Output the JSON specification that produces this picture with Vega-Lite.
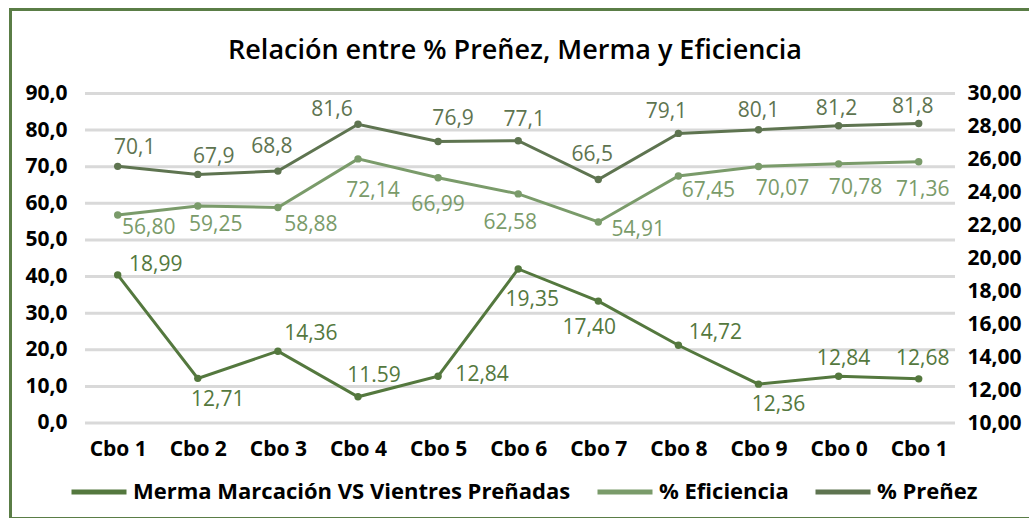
{
  "$schema": "https://vega.github.io/schema/vega-lite/v6.json",
  "width": 1019,
  "height": 509,
  "autosize": {"type": "none"},
  "padding": {"left": 10, "top": 9, "right": 0, "bottom": 0},
  "background": "white",
  "config": {
    "font": "Open Sans",
    "locale": {"number": {"decimal": ",", "thousands": ".", "grouping": [3], "currency": ["", " €"]}},
    "view": {"stroke": null},
    "axis": {"grid": false, "ticks": false, "tickSize": 0, "title": null, "labelFont": "Open Sans", "labelFontWeight": "bold", "labelFontSize": 21, "labelColor": "#000000", "domainColor": "#5a7d46", "domainWidth": 3, "domainCap": "square", "labelOverlap": false},
    "legend": {"orient": "none", "legendX": 59, "legendY": 453, "direction": "horizontal", "labelFontSize": 22, "labelFontWeight": "bold", "labelColor": "#000000", "labelFont": "Open Sans", "labelOffset": 4, "columnPadding": 16, "padding": 0, "labelLimit": 0}
  },
  "title": {"text": "Relación entre % Preñez, Merma y Eficiencia", "frame": "group", "anchor": "middle", "baseline": "alphabetic", "offset": -77, "dx": -4.5, "fontSize": 27, "fontWeight": 600, "color": "#000000", "font": "Open Sans"},
  "datasets": {
    "grid": [{"g": 0}, {"g": 10}, {"g": 20}, {"g": 30}, {"g": 40}, {"g": 50}, {"g": 60}, {"g": 70}, {"g": 80}, {"g": 90}],
    "points": [
      {"i": 1, "cbo": "Cbo 1", "series": "% Preñez", "value": 70.1, "label": "70,1"},
      {"i": 2, "cbo": "Cbo 2", "series": "% Preñez", "value": 67.9, "label": "67,9"},
      {"i": 3, "cbo": "Cbo 3", "series": "% Preñez", "value": 68.8, "label": "68,8"},
      {"i": 4, "cbo": "Cbo 4", "series": "% Preñez", "value": 81.6, "label": "81,6"},
      {"i": 5, "cbo": "Cbo 5", "series": "% Preñez", "value": 76.9, "label": "76,9"},
      {"i": 6, "cbo": "Cbo 6", "series": "% Preñez", "value": 77.1, "label": "77,1"},
      {"i": 7, "cbo": "Cbo 7", "series": "% Preñez", "value": 66.5, "label": "66,5"},
      {"i": 8, "cbo": "Cbo 8", "series": "% Preñez", "value": 79.1, "label": "79,1"},
      {"i": 9, "cbo": "Cbo 9", "series": "% Preñez", "value": 80.1, "label": "80,1"},
      {"i": 10, "cbo": "Cbo 0", "series": "% Preñez", "value": 81.2, "label": "81,2"},
      {"i": 11, "cbo": "Cbo 1", "series": "% Preñez", "value": 81.8, "label": "81,8"},
      {"i": 1, "cbo": "Cbo 1", "series": "% Eficiencia", "value": 56.80, "label": "56,80"},
      {"i": 2, "cbo": "Cbo 2", "series": "% Eficiencia", "value": 59.25, "label": "59,25"},
      {"i": 3, "cbo": "Cbo 3", "series": "% Eficiencia", "value": 58.88, "label": "58,88"},
      {"i": 4, "cbo": "Cbo 4", "series": "% Eficiencia", "value": 72.14, "label": "72,14"},
      {"i": 5, "cbo": "Cbo 5", "series": "% Eficiencia", "value": 66.99, "label": "66,99"},
      {"i": 6, "cbo": "Cbo 6", "series": "% Eficiencia", "value": 62.58, "label": "62,58"},
      {"i": 7, "cbo": "Cbo 7", "series": "% Eficiencia", "value": 54.91, "label": "54,91"},
      {"i": 8, "cbo": "Cbo 8", "series": "% Eficiencia", "value": 67.45, "label": "67,45"},
      {"i": 9, "cbo": "Cbo 9", "series": "% Eficiencia", "value": 70.07, "label": "70,07"},
      {"i": 10, "cbo": "Cbo 0", "series": "% Eficiencia", "value": 70.78, "label": "70,78"},
      {"i": 11, "cbo": "Cbo 1", "series": "% Eficiencia", "value": 71.36, "label": "71,36"},
      {"i": 1, "cbo": "Cbo 1", "series": "Merma Marcación VS Vientres Preñadas", "value": 18.99, "label": "18,99"},
      {"i": 2, "cbo": "Cbo 2", "series": "Merma Marcación VS Vientres Preñadas", "value": 12.71, "label": "12,71"},
      {"i": 3, "cbo": "Cbo 3", "series": "Merma Marcación VS Vientres Preñadas", "value": 14.36, "label": "14,36"},
      {"i": 4, "cbo": "Cbo 4", "series": "Merma Marcación VS Vientres Preñadas", "value": 11.59, "label": "11.59"},
      {"i": 5, "cbo": "Cbo 5", "series": "Merma Marcación VS Vientres Preñadas", "value": 12.84, "label": "12,84"},
      {"i": 6, "cbo": "Cbo 6", "series": "Merma Marcación VS Vientres Preñadas", "value": 19.35, "label": "19,35"},
      {"i": 7, "cbo": "Cbo 7", "series": "Merma Marcación VS Vientres Preñadas", "value": 17.40, "label": "17,40"},
      {"i": 8, "cbo": "Cbo 8", "series": "Merma Marcación VS Vientres Preñadas", "value": 14.72, "label": "14,72"},
      {"i": 9, "cbo": "Cbo 9", "series": "Merma Marcación VS Vientres Preñadas", "value": 12.36, "label": "12,36"},
      {"i": 10, "cbo": "Cbo 0", "series": "Merma Marcación VS Vientres Preñadas", "value": 12.84, "label": "12,84"},
      {"i": 11, "cbo": "Cbo 1", "series": "Merma Marcación VS Vientres Preñadas", "value": 12.68, "label": "12,68"}
    ]
  },
  "layer": [
    {
      "layer": [
        {
          "data": {"name": "grid"},
          "mark": {"type": "rule", "strokeWidth": 3, "color": "#d9d9d9"},
          "encoding": {
            "y": {"field": "g", "type": "quantitative", "scale": {"domain": [-25.95, 113.08], "nice": false, "zero": false}, "axis": {"orient": "left", "values": [0, 10, 20, 30, 40, 50, 60, 70, 80, 90], "format": ".1f", "labelPadding": -57, "labelAlign": "right", "labelBaseline": "middle"}},
            "x": {"datum": 0.592, "type": "quantitative", "scale": {"domain": [-0.3446, 12.377], "nice": false, "zero": false}, "axis": {"orient": "bottom", "values": [1, 2, 3, 4, 5, 6, 7, 8, 9, 10, 11], "labelExpr": "['Cbo 1','Cbo 2','Cbo 3','Cbo 4','Cbo 5','Cbo 6','Cbo 7','Cbo 8','Cbo 9','Cbo 0','Cbo 1'][datum.value - 1]", "labelPadding": -79.5, "labelFlush": false, "labelBaseline": "top", "labelAlign": "center"}},
            "x2": {"datum": 11.453}
          }
        },
        {
          "data": {"name": "points"},
          "transform": [{"filter": "datum.series != 'Merma Marcación VS Vientres Preñadas'"}],
          "mark": {"type": "line", "strokeWidth": 3},
          "encoding": {
            "x": {"field": "i", "type": "quantitative", "scale": {"domain": [-0.3446, 12.377], "nice": false, "zero": false}},
            "y": {"field": "value", "type": "quantitative", "scale": {"domain": [-25.95, 113.08], "nice": false, "zero": false}},
            "color": {"field": "series", "type": "nominal", "scale": {"domain": ["Merma Marcación VS Vientres Preñadas", "% Eficiencia", "% Preñez"], "range": ["#54783e", "#7a9b6a", "#5e7450"]}, "legend": {"title": null, "symbolType": "stroke", "symbolSize": 3025, "symbolStrokeWidth": 5}}
          }
        },
        {
          "data": {"name": "points"},
          "transform": [{"filter": "datum.series != 'Merma Marcación VS Vientres Preñadas'"}],
          "mark": {"type": "circle", "size": 55, "opacity": 1},
          "encoding": {
            "x": {"field": "i", "type": "quantitative", "scale": {"domain": [-0.3446, 12.377], "nice": false, "zero": false}},
            "y": {"field": "value", "type": "quantitative", "scale": {"domain": [-25.95, 113.08], "nice": false, "zero": false}},
            "color": {"field": "series", "type": "nominal", "legend": {"title": null, "symbolType": "stroke", "symbolSize": 3025, "symbolStrokeWidth": 5}}
          }
        },
        {
          "data": {"name": "points"},
          "transform": [{"filter": "datum.series == '% Preñez'"}],
          "mark": {"type": "text", "fontSize": 21, "align": "center", "baseline": "middle", "dx": {"expr": "[17,16,-6,-26,15,6,-6,-12,0,-2,-6][datum.i-1]"}, "dy": {"expr": "[-18,-17,-24,-14,-22,-21,-25,-21,-19,-17,-17][datum.i-1]"}},
          "encoding": {
            "x": {"field": "i", "type": "quantitative", "scale": {"domain": [-0.3446, 12.377], "nice": false, "zero": false}},
            "y": {"field": "value", "type": "quantitative", "scale": {"domain": [-25.95, 113.08], "nice": false, "zero": false}},
            "text": {"field": "label"},
            "color": {"field": "series", "type": "nominal", "legend": {"title": null, "symbolType": "stroke", "symbolSize": 3025, "symbolStrokeWidth": 5}}
          }
        },
        {
          "data": {"name": "points"},
          "transform": [{"filter": "datum.series == '% Eficiencia'"}],
          "mark": {"type": "text", "fontSize": 21, "align": "center", "baseline": "middle", "dx": {"expr": "[31,18,33,15,0,-8,40,30,24,17,4][datum.i-1]"}, "dy": {"expr": "[13,19,18,32,27,29,8,15,23,24,28][datum.i-1]"}},
          "encoding": {
            "x": {"field": "i", "type": "quantitative", "scale": {"domain": [-0.3446, 12.377], "nice": false, "zero": false}},
            "y": {"field": "value", "type": "quantitative", "scale": {"domain": [-25.95, 113.08], "nice": false, "zero": false}},
            "text": {"field": "label"},
            "color": {"field": "series", "type": "nominal", "legend": {"title": null, "symbolType": "stroke", "symbolSize": 3025, "symbolStrokeWidth": 5}}
          }
        }
      ]
    },
    {
      "layer": [
        {
          "data": {"name": "points"},
          "transform": [{"filter": "datum.series == 'Merma Marcación VS Vientres Preñadas'"}],
          "mark": {"type": "line", "strokeWidth": 3},
          "encoding": {
            "x": {"field": "i", "type": "quantitative", "scale": {"domain": [-0.3446, 12.377], "nice": false, "zero": false}, "axis": {"orient": "top", "labels": false, "domain": true}},
            "y": {"field": "value", "type": "quantitative", "scale": {"domain": [4.234, 35.13], "nice": false, "zero": false}, "axis": {"orient": "right", "values": [10, 12, 14, 16, 18, 20, 22, 24, 26, 28, 30], "format": ".2f", "labelPadding": -62, "labelAlign": "left", "labelBaseline": "middle", "domain": false}},
            "color": {"field": "series", "type": "nominal", "legend": {"title": null, "symbolType": "stroke", "symbolSize": 3025, "symbolStrokeWidth": 5}}
          }
        },
        {
          "data": {"name": "points"},
          "transform": [{"filter": "datum.series == 'Merma Marcación VS Vientres Preñadas'"}],
          "mark": {"type": "circle", "size": 55, "opacity": 1},
          "encoding": {
            "x": {"field": "i", "type": "quantitative", "scale": {"domain": [-0.3446, 12.377], "nice": false, "zero": false}},
            "y": {"field": "value", "type": "quantitative", "scale": {"domain": [4.234, 35.13], "nice": false, "zero": false}},
            "color": {"field": "series", "type": "nominal", "legend": {"title": null, "symbolType": "stroke", "symbolSize": 3025, "symbolStrokeWidth": 5}}
          }
        },
        {
          "data": {"name": "points"},
          "transform": [{"filter": "datum.series == 'Merma Marcación VS Vientres Preñadas'"}],
          "mark": {"type": "text", "fontSize": 21, "align": "center", "baseline": "middle", "dx": {"expr": "[38,20,33,16,44,14,-9,37,20,5,4][datum.i-1]"}, "dy": {"expr": "[-10,22,-17,-21,-1,31,27,-12,21,-17,-20][datum.i-1]"}},
          "encoding": {
            "x": {"field": "i", "type": "quantitative", "scale": {"domain": [-0.3446, 12.377], "nice": false, "zero": false}},
            "y": {"field": "value", "type": "quantitative", "scale": {"domain": [4.234, 35.13], "nice": false, "zero": false}},
            "text": {"field": "label"},
            "color": {"field": "series", "type": "nominal", "legend": {"title": null, "symbolType": "stroke", "symbolSize": 3025, "symbolStrokeWidth": 5}}
          }
        }
      ]
    }
  ],
  "resolve": {"scale": {"x": "independent", "y": "independent"}}
}
